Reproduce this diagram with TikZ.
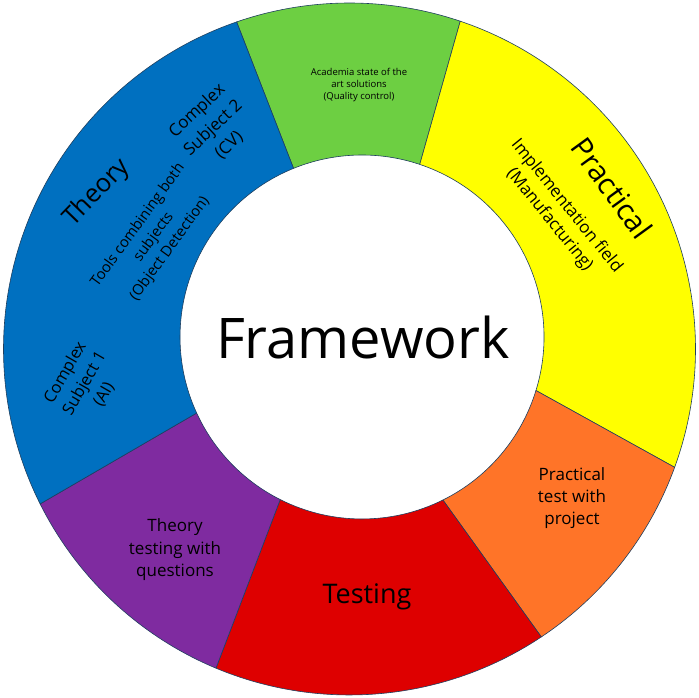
\documentclass[tikz,border=0pt]{standalone}
\usepackage{fontspec}
\setmainfont{Open Sans}
\usetikzlibrary{calc}
\definecolor{segblue}{HTML}{0070C0}
\definecolor{seggreen}{HTML}{6DCF42}
\definecolor{segyellow}{HTML}{FFFF00}
\definecolor{segorange}{HTML}{FF7428}
\definecolor{segred}{HTML}{DE0000}
\definecolor{segpurple}{HTML}{7F2BA0}
\definecolor{edgecol}{HTML}{1F3F5F}
\tikzset{
  seg/.style={draw=edgecol, line width=0.6pt, line join=round},
  lbl/.style={align=center, text=black, inner sep=0pt},
}
\begin{document}
\begin{tikzpicture}[x=1pt,y=1pt]
\useasboundingbox (0,0) rectangle (699,698);
\def\Ro{346}
\def\Ri{182}
\coordinate (O) at (349.5,349);
\coordinate (I) at (362,361);
% outer boundary points
\coordinate (o1) at ($(O)+(109.04:\Ro)$);
\coordinate (o2) at ($(O)+(71.33:\Ro)$);
\coordinate (o3) at ($(O)+(-20:\Ro)$);
\coordinate (o4) at ($(O)+(-56.33:\Ro)$);
\coordinate (o5) at ($(O)+(-112.7:\Ro)$);
\coordinate (o6) at ($(O)+(-153.4:\Ro)$);
% inner boundary points
\coordinate (i1) at ($(I)+(112.1:\Ri)$);
\coordinate (i2) at ($(I)+(71.5:\Ri)$);
\coordinate (i3) at ($(I)+(-17.1:\Ri)$);
\coordinate (i4) at ($(I)+(-63.6:\Ri)$);
\coordinate (i5) at ($(I)+(-116.7:\Ri)$);
\coordinate (i6) at ($(I)+(-155.3:\Ri)$);
% segments
\draw[seg, fill=seggreen] (o2) arc[start angle=71.33, end angle=109.04, radius=\Ro] -- (i1) arc[start angle=112.1, end angle=71.5, radius=\Ri] -- cycle;
\draw[seg, fill=segyellow] (o3) arc[start angle=-20, end angle=71.33, radius=\Ro] -- (i2) arc[start angle=71.5, end angle=-17.1, radius=\Ri] -- cycle;
\draw[seg, fill=segorange] (o4) arc[start angle=-56.33, end angle=-20, radius=\Ro] -- (i3) arc[start angle=-17.1, end angle=-63.6, radius=\Ri] -- cycle;
\draw[seg, fill=segred] (o5) arc[start angle=-112.7, end angle=-56.33, radius=\Ro] -- (i4) arc[start angle=-63.6, end angle=-116.7, radius=\Ri] -- cycle;
\draw[seg, fill=segpurple] (o6) arc[start angle=-153.4, end angle=-112.7, radius=\Ro] -- (i5) arc[start angle=-116.7, end angle=-155.3, radius=\Ri] -- cycle;
\draw[seg, fill=segblue] (o1) arc[start angle=109.04, end angle=206.6, radius=\Ro] -- (i6) arc[start angle=204.7, end angle=112.1, radius=\Ri] -- cycle;
% texts
\node[lbl, font=\fontsize{56}{60}\selectfont] (fw) at (363,360) {Framework};
\node[lbl, rotate=46, font=\fontsize{25.5}{30}\selectfont] (theory) at (97,505) {Theory};
\node[lbl, rotate=43, font=\fontsize{17}{23.5}\selectfont] (cs2) at (213,570) {Complex\\Subject 2\\(CV)};
\node[lbl, rotate=54, font=\fontsize{14.8}{19.7}\selectfont] (tools) at (154,461) {Tools combining both\\subjects\\(Object Detection)};
\node[lbl, rotate=60, font=\fontsize{16.5}{22.3}\selectfont] (cs1) at (84.5,314.5) {Complex\\Subject 1\\(AI)};
\node[lbl, font=\fontsize{9.5}{12}\selectfont] (acad) at (359,613) {Academia state of the\\art solutions\\(Quality control)};
\node[lbl, rotate=-54, font=\fontsize{29.5}{32}\selectfont] (prac) at (612,510) {Practical};
\node[lbl, rotate=-51, font=\fontsize{17}{21.7}\selectfont] (impl) at (558,485) {Implementation field\\(Manufacturing)};
\node[lbl, font=\fontsize{17}{22}\selectfont] (ptest) at (572,200) {Practical\\test with\\project};
\node[lbl, font=\fontsize{17}{22.5}\selectfont] (ttest) at (175,148) {Theory\\testing with\\questions};
\node[lbl, font=\fontsize{27}{30}\selectfont] (testing) at (367,101) {Testing};
\end{tikzpicture}
\end{document}
